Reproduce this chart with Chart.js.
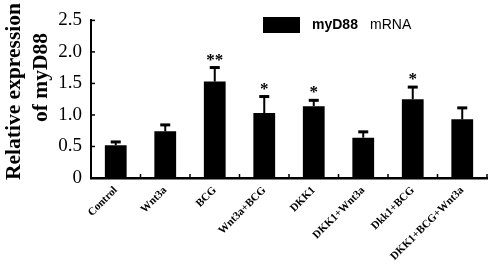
<!DOCTYPE html>
<html>
<head>
<meta charset="utf-8">
<script src="https://cdn.jsdelivr.net/npm/chart.js@4/dist/chart.umd.min.js"></script>
<style>
  html, body { margin: 0; padding: 0; background: #fff; }
  #wrap { width: 492px; height: 272px; position: relative; }
</style>
</head>
<body>
<div id="wrap"><canvas id="c" width="492" height="272"></canvas></div>
<script>
const categories = ["Control", "Wnt3a", "BCG", "Wnt3a+BCG", "DKK1", "DKK1+Wnt3a", "Dkk1+BCG", "DKK1+BCG+Wnt3a"];
const values = [0.52, 0.74, 1.53, 1.03, 1.14, 0.64, 1.25, 0.93];
const errors = [0.06, 0.11, 0.23, 0.27, 0.10, 0.10, 0.20, 0.19];
const significance = ["", "", "**", "*", "*", "", "*", ""];
const yTicks = [0, 0.5, 1, 1.5, 2, 2.5];
const seriesName = "myD88";
const seriesUnit = "mRNA";
const yTitle = ["Relative expression", "of myD88"];

const decorations = {
  id: 'decorations',
  afterDatasetsDraw(chart) {
    const ctx = chart.ctx;
    const x = chart.scales.x, y = chart.scales.y;
    const meta = chart.getDatasetMeta(0);
    ctx.save();
    ctx.fillStyle = '#000';
    ctx.strokeStyle = '#000';
    meta.data.forEach((bar, i) => {
      const cx = bar.x;
      const yTop = y.getPixelForValue(values[i] + errors[i]);
      const yBar = y.getPixelForValue(values[i]);
      ctx.lineWidth = 2;
      ctx.beginPath();
      ctx.moveTo(cx, yBar);
      ctx.lineTo(cx, yTop);
      ctx.stroke();
      ctx.fillRect(cx - 5, yTop - 1, 10, 3);
      if (significance[i]) {
        ctx.font = 'bold 17px "Liberation Serif"';
        ctx.textAlign = 'center';
        ctx.textBaseline = 'alphabetic';
        const m = ctx.measureText(significance[i]);
        const cy = yTop - 10;
        ctx.fillText(significance[i], cx, cy + (m.actualBoundingBoxAscent - m.actualBoundingBoxDescent) / 2);
      }
    });
    ctx.lineWidth = 1.5;
    yTicks.forEach(v => {
      const py = y.getPixelForValue(v);
      ctx.beginPath();
      ctx.moveTo(x.left, py);
      ctx.lineTo(x.left + 4, py);
      ctx.stroke();
    });
    const step = (x.right - x.left) / categories.length;
    for (let i = 0; i <= categories.length; i++) {
      const px = x.left + i * step;
      ctx.beginPath();
      ctx.moveTo(px, y.bottom);
      ctx.lineTo(px, y.bottom - 4);
      ctx.stroke();
    }
    ctx.restore();
  },
  afterDraw(chart) {
    const ctx = chart.ctx;
    ctx.save();
    ctx.fillStyle = '#000';
    ctx.font = 'bold 21.5px "Liberation Serif"';
    ctx.textAlign = 'center';
    ctx.textBaseline = 'alphabetic';
    ctx.save(); ctx.translate(20, 91.5); ctx.rotate(-Math.PI / 2); ctx.fillText(yTitle[0], 0, 0); ctx.restore();
    ctx.save(); ctx.translate(47, 77.5); ctx.rotate(-Math.PI / 2); ctx.fillText(yTitle[1], 0, 0); ctx.restore();
    ctx.fillStyle = chart.data.datasets[0].backgroundColor;
    ctx.fillRect(263, 17, 37, 16);
    ctx.fillStyle = '#000';
    ctx.textAlign = 'left';
    ctx.textBaseline = 'middle';
    ctx.font = 'bold 14px "Liberation Sans"';
    ctx.fillText(seriesName, 312, 25);
    ctx.font = '14px "Liberation Sans"';
    ctx.fillText(seriesUnit, 370, 25);
    ctx.restore();
  }
};

new Chart(document.getElementById('c'), {
  type: 'bar',
  data: {
    labels: categories,
    datasets: [{
      label: seriesName + ' ' + seriesUnit,
      data: values,
      backgroundColor: '#000000',
      borderWidth: 0,
      categoryPercentage: 1.0,
      barPercentage: 0.44
    }]
  },
  options: {
    responsive: false,
    animation: false,
    devicePixelRatio: 1,
    layout: { padding: { left: 0, top: 15, right: 5, bottom: 0 } },
    plugins: { legend: { display: false }, tooltip: { enabled: false } },
    scales: {
      x: {
        grid: { display: false, drawTicks: false },
        border: { display: true, color: '#000', width: 2.5 },
        ticks: {
          color: '#000',
          font: { family: 'Liberation Serif', size: 11, weight: 'bold' },
          minRotation: 45, maxRotation: 45,
          autoSkip: false,
          padding: 6
        },
        afterFit(s) { s.height = 94; }
      },
      y: {
        min: 0, max: 2.5,
        grid: { display: false, drawTicks: false },
        border: { display: true, color: '#000', width: 2 },
        ticks: {
          stepSize: 0.5,
          color: '#000',
          font: { family: 'Liberation Serif', size: 19 },
          padding: 9
        },
        afterFit(s) { s.width = 91; }
      }
    }
  },
  plugins: [decorations]
});
</script>
</body>
</html>
